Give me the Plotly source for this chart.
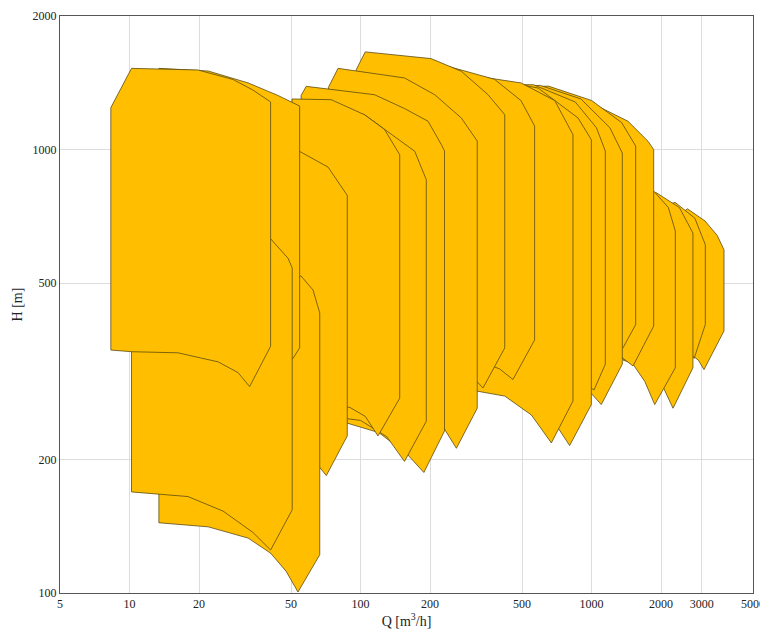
import plotly.graph_objects as go

# Each pump envelope: (Q [m3/h], H [m]) vertices, listed in drawing order (back to front)
S18_Q = [2300, 2300, 2600, 3100, 3500, 3745, 3745, 3069, 2900, 2600, 2300]
S18_H = [345, 700, 735, 690, 640, 594, 390, 319, 335, 350, 350]
S17_Q = [2000, 2000, 2300, 2800, 3108, 3108, 2780, 2600, 2300, 2000]
S17_H = [345, 740, 760, 700, 610, 403, 338, 360, 380, 385]
S16_Q = [1700, 1700, 1900, 2400, 2748, 2748, 2253, 2050, 1850, 1700]
S16_H = [330, 780, 800, 740, 648, 322, 261, 290, 320, 330]
S15_Q = [1370, 1370, 1858, 2150, 2305, 2305, 1877, 1700, 1500, 1370]
S15_H = [350, 780, 806, 740, 655, 322, 266, 300, 330, 335]
S14_Q = [550, 550, 693, 965, 1438, 1755, 1858, 1858, 1512, 1300, 900, 550]
S14_H = [330, 1350, 1352, 1284, 1158, 1044, 1000, 400, 325, 345, 360, 370]
S13_Q = [500, 500, 650, 1000, 1350, 1553, 1553, 1368, 1200, 900, 500]
S13_H = [340, 1380, 1390, 1290, 1150, 1018, 403, 357, 340, 355, 360]
S12_Q = [450, 450, 600, 900, 1200, 1359, 1359, 1102, 950, 700, 450]
S12_H = [330, 1390, 1395, 1300, 1120, 982, 328, 266, 290, 320, 330]
S11_Q = [400, 400, 560, 850, 1050, 1147, 1147, 1025, 850, 600, 400]
S11_H = [330, 1400, 1400, 1280, 1120, 992, 328, 287, 305, 325, 330]
S10_Q = [330, 330, 400, 587, 874, 998, 998, 804, 700, 550, 400, 330]
S10_H = [290, 1420, 1430, 1376, 1178, 1052, 266, 215, 240, 270, 285, 290]
S9_Q = [300, 300, 356, 495, 693, 831, 831, 670, 549, 421, 322, 300]
S9_H = [285, 1420, 1450, 1413, 1289, 1080, 271, 218, 252, 278, 285, 285]
S6_Q = [215, 215, 239, 380, 495, 567, 567, 457, 400, 300, 215]
S6_H = [345, 1450, 1540, 1440, 1289, 1130, 372, 303, 320, 340, 345]
S5_Q = [95.8, 95.8, 104.8, 202, 273, 356, 421, 421, 339, 300, 230, 150, 95.8]
S5_H = [345, 1514, 1660, 1603, 1501, 1330, 1198, 357, 290, 310, 330, 340, 345]
S4_Q = [72.6, 72.6, 79.9, 155, 209.5, 273, 320, 320, 260, 230, 180, 120, 72.6]
S4_H = [275, 1381, 1524, 1450, 1329, 1178, 1045, 261, 212, 235, 255, 270, 275]
S2_Q = [55.3, 55.3, 58.2, 115, 155, 196, 224, 231, 231, 188, 160, 120, 80, 55.3]
S2_H = [250, 1324, 1388, 1329, 1237, 1158, 1025, 992, 232, 187, 205, 230, 245, 250]
S3_Q = [55, 55, 104, 127, 171.6, 192.6, 192.6, 155, 130, 100, 55]
S3_H = [255, 1290, 1198, 1110, 991, 855, 244, 198, 225, 245, 255]
S1_Q = [50.5, 50.5, 74.7, 104, 127, 147.8, 147.8, 119, 105, 90, 70, 50.5]
S1_H = [270, 1300, 1295, 1198, 1110, 973, 275, 226, 250, 262, 268, 270]
E_Q = [47, 47, 54.5, 72.3, 87.6, 87.6, 71.1, 60, 50, 47]
E_H = [225, 1000, 990, 913, 788, 226, 184, 205, 220, 225]
D_Q = [13.4, 13.4, 40, 55.2, 62.3, 66.6, 66.6, 53.6, 47.6, 40.8, 32.6, 21.9, 13.4]
D_H = [144, 400, 480, 519, 482, 428, 122, 100.5, 112, 123, 133, 141, 144]
B_Q = [13.4, 13.4, 21.9, 32.6, 43.9, 54.5, 54.5, 51, 40, 13.4]
B_H = [350, 1524, 1503, 1413, 1324, 1253, 357, 338, 345, 350]
C_Q = [10.2, 10.2, 30, 40.8, 48.5, 50.6, 50.6, 40.8, 34.2, 25.4, 17.9, 10.2]
C_H = [169, 700, 700, 629, 569, 541, 154, 125, 137, 153, 165, 169]
A_Q = [8.3, 8.3, 10.2, 19.8, 28.1, 34.2, 40.8, 40.8, 33.1, 29.5, 24.2, 16.2, 10.2, 8.3]
A_H = [353, 1243, 1524, 1511, 1438, 1362, 1280, 360, 292, 314, 332, 348, 350, 353]

shapes = [(S18_Q, S18_H), (S17_Q, S17_H), (S16_Q, S16_H), (S15_Q, S15_H),
          (S14_Q, S14_H), (S13_Q, S13_H), (S12_Q, S12_H), (S11_Q, S11_H),
          (S10_Q, S10_H), (S9_Q, S9_H), (S6_Q, S6_H), (S5_Q, S5_H),
          (S4_Q, S4_H), (S2_Q, S2_H), (S3_Q, S3_H), (S1_Q, S1_H),
          (E_Q, E_H), (D_Q, D_H), (B_Q, B_H), (C_Q, C_H), (A_Q, A_H)]

x_ticks = [5, 10, 20, 50, 100, 200, 500, 1000, 2000, 3000, 5000]
y_ticks = [100, 200, 500, 1000, 2000]

fig = go.Figure()
for q, h in shapes:
    fig.add_trace(go.Scatter(x=q + [q[0]], y=h + [h[0]], mode="lines", fill="toself",
                             fillcolor="#FFBF00", line=dict(color="#5c4a10", width=0.8),
                             hoverinfo="skip", showlegend=False))

font = "Liberation Serif"
fig.update_layout(
    width=768, height=629, margin=dict(l=52, r=23, t=8, b=44, autoexpand=False),
    paper_bgcolor="white", plot_bgcolor="white",
    font=dict(family=font, size=12, color="#222"),
    xaxis=dict(type="log", range=[0.69897, 3.69897], tickvals=x_ticks,
               ticktext=[str(v) for v in x_ticks], showgrid=True, gridcolor="#dddddd",
               zeroline=False, showline=True, linecolor="#555", mirror=True,
               ticks="", automargin=False,
               title=dict(text="Q [m<sup>3</sup>/h]", standoff=4)),
    yaxis=dict(type="log", range=[2, 3.30103], tickvals=y_ticks,
               ticktext=[str(v) for v in y_ticks], showgrid=True, gridcolor="#dddddd",
               zeroline=False, showline=True, linecolor="#555", mirror=True,
               ticks="", automargin=False, title=dict(text="H [m]", standoff=6)),
)
fig.add_annotation(text="2025-08-26", xref="paper", yref="paper", x=1, y=-0.062,
                   xshift=20, xanchor="right", yanchor="top", showarrow=False,
                   font=dict(size=10))
fig.write_html("out.html")
